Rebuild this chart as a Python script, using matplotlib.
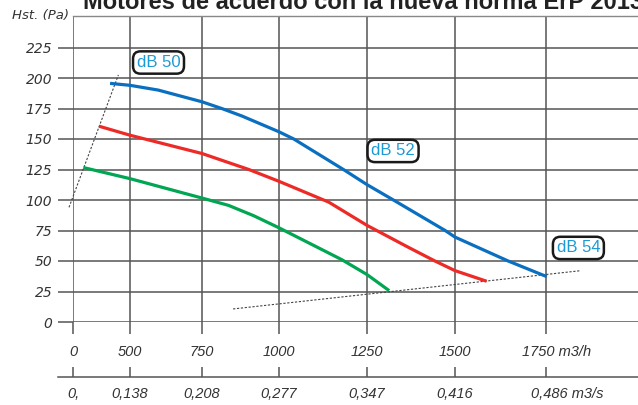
import numpy as np
import matplotlib
matplotlib.use("Agg")
import matplotlib.pyplot as plt
from matplotlib.transforms import ScaledTranslation

# ---------------- data ----------------
title = "Motores de acuerdo con la nueva norma ErP 2013"
y_label = "Hst. (Pa)"
x_ticks_m3h = [0, 500, 750, 1000, 1250, 1500, 1750]
x_tick_labels_m3h = ["0", "500", "750", "1000", "1250", "1500", "1750 m3/h"]
x_tick_labels_m3s = ["0,", "0,138", "0,208", "0,277", "0,347", "0,416", "0,486 m3/s"]
y_ticks = [0, 25, 50, 75, 100, 125, 150, 175, 200, 225]

blue_x = [325, 500, 598, 750, 814, 880, 1000, 1042, 1183, 1250, 1325, 1472, 1500, 1646, 1752]
blue_y = [195.6, 194.0, 190.1, 180.5, 175, 168.8, 155.9, 150, 125, 112.6, 100, 75, 69.6, 50, 37.2]
red_x = [228, 500, 750, 902, 1000, 1141, 1250, 1367, 1443, 1500, 1587]
red_y = [160.5, 153.1, 138.1, 125, 115.3, 98.3, 79.2, 61.3, 50, 42.1, 33.4]
green_x = [91, 500, 750, 836, 918, 1000, 1179, 1250, 1313]
green_y = [126.6, 117.5, 101.6, 95.6, 87.1, 77.2, 51, 38.9, 25.7]

left_guide_x = [-35, 398]
left_guide_y = [94, 202.5]
bottom_guide_x = [851, 1843]
bottom_guide_y = [10.7, 42]

labels = ["dB 50", "dB 52", "dB 54"]
label_x = [599, 1324, 1839]
label_y = [212.7, 140.2, 60.7]

# ------------- non-uniform scale of the original chart -------------
scale_vals = np.array([-1000, 0, 500, 750, 1000, 1250, 1500, 1750, 3000], float)
scale_pos = np.array([-41, 73, 130, 202, 279, 367, 455, 546, 1001], float)

def fwd(v):
    return np.interp(v, scale_vals, scale_pos)

def inv(p):
    return np.interp(p, scale_pos, scale_vals)

W, H = 638, 405
fig = plt.figure(figsize=(W / 100, H / 100), dpi=100)

def fx(px):
    return px / W

def fy(py):
    return 1 - py / H

lab_font = "Liberation Sans"
txtc = "#333333"
gridc = "#555555"

ax = fig.add_axes([fx(73), fy(322), 1 - fx(73), fy(16) - fy(322)])
ax.set_xscale("function", functions=(fwd, inv))
ax.set_xlim(0, float(inv(638)))
ax.set_ylim(0, (322 - 16) / 30.5 * 25)

for s in ["left", "right", "bottom"]:
    ax.spines[s].set_visible(False)
ax.spines["top"].set_color("#888888")
ax.spines["top"].set_linewidth(1.0)

ax.set_xticks(x_ticks_m3h)
ax.set_xticklabels(x_tick_labels_m3h, fontstyle="italic", family=lab_font,
                   fontsize=10.5, color=txtc)
ax.set_yticks(y_ticks)
ax.set_yticklabels([str(v) for v in y_ticks], fontstyle="italic",
                   family="DejaVu Sans", fontsize=10, color=txtc)
ax.minorticks_off()
ax.tick_params(axis="x", direction="out", length=12 * 0.72, width=1.1,
               color=gridc, pad=8)
ax.tick_params(axis="y", direction="out", length=15 * 0.72, width=1.1,
               color=gridc, pad=4)
ax.grid(True, color=gridc, linewidth=1.1)
ax.set_axisbelow(True)

ax.plot(blue_x, blue_y, color="#0a6fc0", lw=2.3, solid_capstyle="butt",
        solid_joinstyle="round", zorder=3)
ax.plot(red_x, red_y, color="#ee2a27", lw=2.3, solid_capstyle="butt",
        solid_joinstyle="round", zorder=3)
ax.plot(green_x, green_y, color="#00a651", lw=2.3, solid_capstyle="butt",
        solid_joinstyle="round", zorder=3)

ax.plot(left_guide_x, left_guide_y, color="#444444", lw=0.8,
        linestyle=(0, (2, 1.5)), clip_on=False, zorder=2)
ax.plot(bottom_guide_x, bottom_guide_y, color="#444444", lw=0.8,
        linestyle=(0, (2, 1.5)), clip_on=False, zorder=2)

for t, x, y in zip(labels, label_x, label_y):
    ax.text(x, y, t, ha="center", va="center", family=lab_font, fontsize=12,
            color="#1c9ad6", zorder=5,
            bbox=dict(boxstyle="round,pad=0.22,rounding_size=0.45",
                      fc="white", ec="#1a1a1a", lw=1.8))

# second (m3/s) axis
ax2 = fig.add_axes([fx(58), fy(377), 1 - fx(58), 0.0005])
ax2.set_xscale("function", functions=(fwd, inv))
ax2.set_xlim(float(inv(58)), float(inv(638)))
ax2.set_ylim(0, 1)
ax2.patch.set_visible(False)
for s in ["left", "right", "top"]:
    ax2.spines[s].set_visible(False)
ax2.spines["bottom"].set_color(gridc)
ax2.spines["bottom"].set_linewidth(1.1)
ax2.set_yticks([])
ax2.set_xticks(x_ticks_m3h)
ax2.set_xticklabels(x_tick_labels_m3s, fontstyle="italic", family=lab_font,
                    fontsize=10.5, color=txtc)
ax2.minorticks_off()
ax2.tick_params(axis="x", direction="in", length=10 * 0.72, width=1.1,
                color=gridc, pad=7)

# shift the unit-carrying last labels so the number sits on its tick
lbl = ax.get_xticklabels()[-1]
lbl.set_transform(lbl.get_transform() + ScaledTranslation(0.11, 0, fig.dpi_scale_trans))
lbl2 = ax2.get_xticklabels()[-1]
lbl2.set_transform(lbl2.get_transform() + ScaledTranslation(0.21, 0, fig.dpi_scale_trans))

fig.text(fx(69), fy(15), y_label, ha="right", va="center", fontstyle="italic",
         family="DejaVu Sans", fontsize=9.5, color=txtc)
fig.text(fx(83), fy(9), title, ha="left", va="baseline", fontweight="bold",
         family="Liberation Sans", fontsize=17, color="#222222")

fig.savefig("out.png", dpi=100)
